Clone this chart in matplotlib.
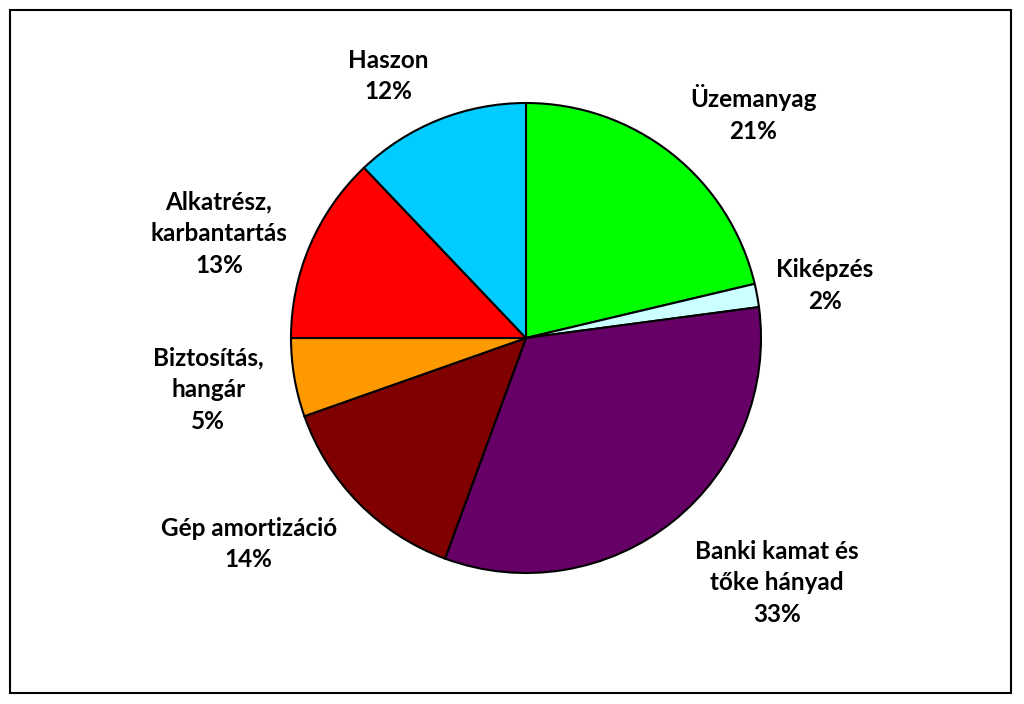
#!/usr/bin/env python3
import numpy as np
import matplotlib
matplotlib.use("Agg")
import matplotlib.pyplot as plt
from matplotlib.patches import Rectangle

# slices, clockwise from 12 o'clock
categories = [
    "Üzemanyag",
    "Kiképzés",
    "Banki kamat és\ntőke hányad",
    "Gép amortizáció",
    "Biztosítás,\nhangár",
    "Alkatrész,\nkarbantartás",
    "Haszon",
]
shares = [21.3, 1.6, 32.7, 14.0, 5.4, 12.9, 12.1]
colors = ["#00FF00", "#CCFFFF", "#660066", "#800000", "#FF9900", "#FF0000", "#00CCFF"]

# label placement: radius factor and angular nudge (degrees, clockwise)
label_dist = [1.36, 1.29, 1.49, 1.47, 1.37, 1.38, 1.26]
label_shift = [7, 0.5, -7, 8, 0.5, -4.5, -6]


def main():
    fig = plt.figure(figsize=(10.24, 7.04), dpi=100)
    ax = fig.add_axes([0, 0, 1, 1])

    cx, cy, r = 526, 366, 235
    wedges, _ = ax.pie(
        shares,
        colors=colors,
        startangle=90,
        counterclock=False,
        center=(cx, cy),
        radius=r,
        wedgeprops=dict(edgecolor="black", linewidth=1.5),
        frame=True,
    )
    ax.set_xlim(0, 1024)
    ax.set_ylim(0, 704)
    ax.set_aspect("equal")
    ax.axis("off")

    for w, name, val, d, sh in zip(wedges, categories, shares, label_dist, label_shift):
        mid = (w.theta1 + w.theta2) / 2 - sh
        ang = np.deg2rad(mid)
        x = cx + d * r * np.cos(ang)
        y = cy + d * r * np.sin(ang)
        ax.text(x, y, f"{name}\n{val:.0f}%", ha="center", va="center",
                fontsize=17.5, fontweight="bold", family="Lato",
                linespacing=1.45, color="black")

    # outer frame
    fig.patches.append(Rectangle((10 / 1024, 11 / 704), 1001 / 1024, 683 / 704,
                                 transform=fig.transFigure, fill=False,
                                 edgecolor="black", linewidth=1.5))

    plt.savefig("out.png", dpi=100)
    plt.close()


if __name__ == "__main__":
    main()
